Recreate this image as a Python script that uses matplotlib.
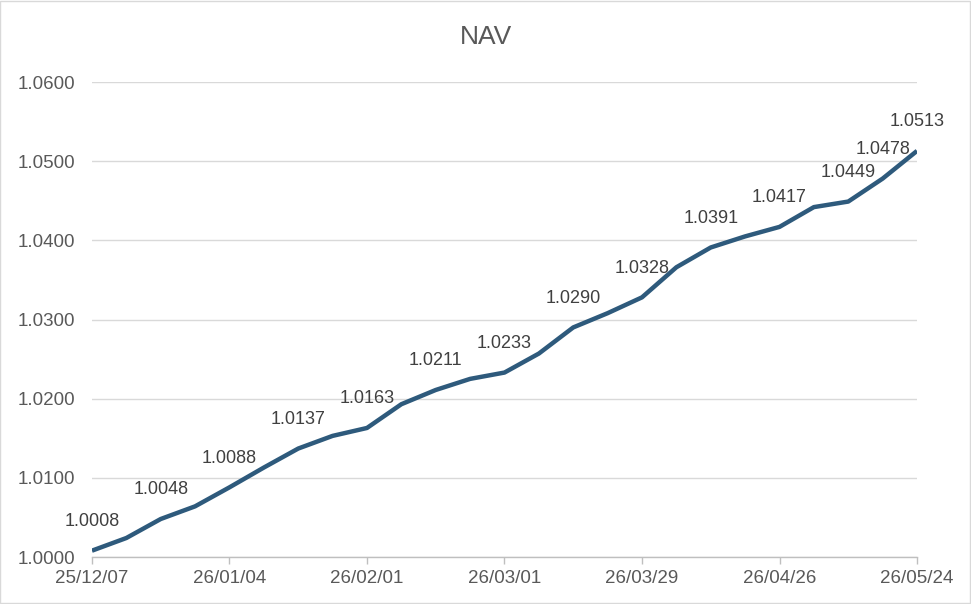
import matplotlib
matplotlib.use("Agg")
import matplotlib.pyplot as plt
from matplotlib.patches import Rectangle

plt.rcParams['font.family'] = ['Liberation Sans', 'DejaVu Sans']

# weekly dates and NAV values
dates = ["25/12/07", "25/12/14", "25/12/21", "25/12/28", "26/01/04", "26/01/11",
         "26/01/18", "26/01/25", "26/02/01", "26/02/08", "26/02/15", "26/02/22",
         "26/03/01", "26/03/08", "26/03/15", "26/03/22", "26/03/29", "26/04/05",
         "26/04/12", "26/04/19", "26/04/26", "26/05/03", "26/05/10", "26/05/17",
         "26/05/24"]
nav = [1.0008, 1.0024, 1.0048, 1.0064, 1.0088, 1.0113, 1.0137, 1.0153, 1.0163,
       1.0193, 1.0211, 1.0225, 1.0233, 1.0257, 1.0290, 1.0308, 1.0328, 1.0366,
       1.0391, 1.0405, 1.0417, 1.0442, 1.0449, 1.0478, 1.0513]
labelled = [0, 2, 4, 6, 8, 10, 12, 14, 16, 18, 20, 22, 23, 24]
yticks = [1.0000, 1.0100, 1.0200, 1.0300, 1.0400, 1.0500, 1.0600]

fig = plt.figure(figsize=(9.71, 6.04), dpi=100)
ax = fig.add_axes([0.0947, 0.0778, 0.8497, 0.7864])
fig.patches.append(Rectangle((0.0005, 0.001), 0.998, 0.997, transform=fig.transFigure,
                             fill=False, edgecolor='#d9d9d9', linewidth=1))

x = list(range(len(nav)))
ax.plot(x, nav, color='#2e5a7c', linewidth=3.2, solid_capstyle='butt', zorder=3)

for i in labelled:
    ax.annotate(f"{nav[i]:.4f}", (x[i], nav[i]), xytext=(0, 21), textcoords='offset points',
                ha='center', va='center', fontsize=13, color='#404040', zorder=4)

ax.set_xlim(0, len(nav) - 1)
ax.set_ylim(1.0, 1.06)
ax.set_yticks(yticks)
ax.set_yticklabels([f"{v:.4f}" for v in yticks])
ax.set_xticks(x[::4])
ax.set_xticklabels(dates[::4])

ax.grid(axis='y', color='#d9d9d9', linewidth=1)
ax.set_axisbelow(True)
for s in ['top', 'right', 'left']:
    ax.spines[s].set_visible(False)
ax.spines['bottom'].set_color('#bfbfbf')
ax.spines['bottom'].set_linewidth(1)
ax.tick_params(axis='y', length=0, pad=12, labelsize=13.5, labelcolor='#595959')
ax.tick_params(axis='x', length=5, width=1, color='#bfbfbf', pad=4, labelsize=13.5,
               labelcolor='#595959')

fig.text(0.5, 1 - 37 / 604, "NAV", fontsize=19, color='#595959', ha='center', va='center')

fig.savefig("out.png", dpi=100)
